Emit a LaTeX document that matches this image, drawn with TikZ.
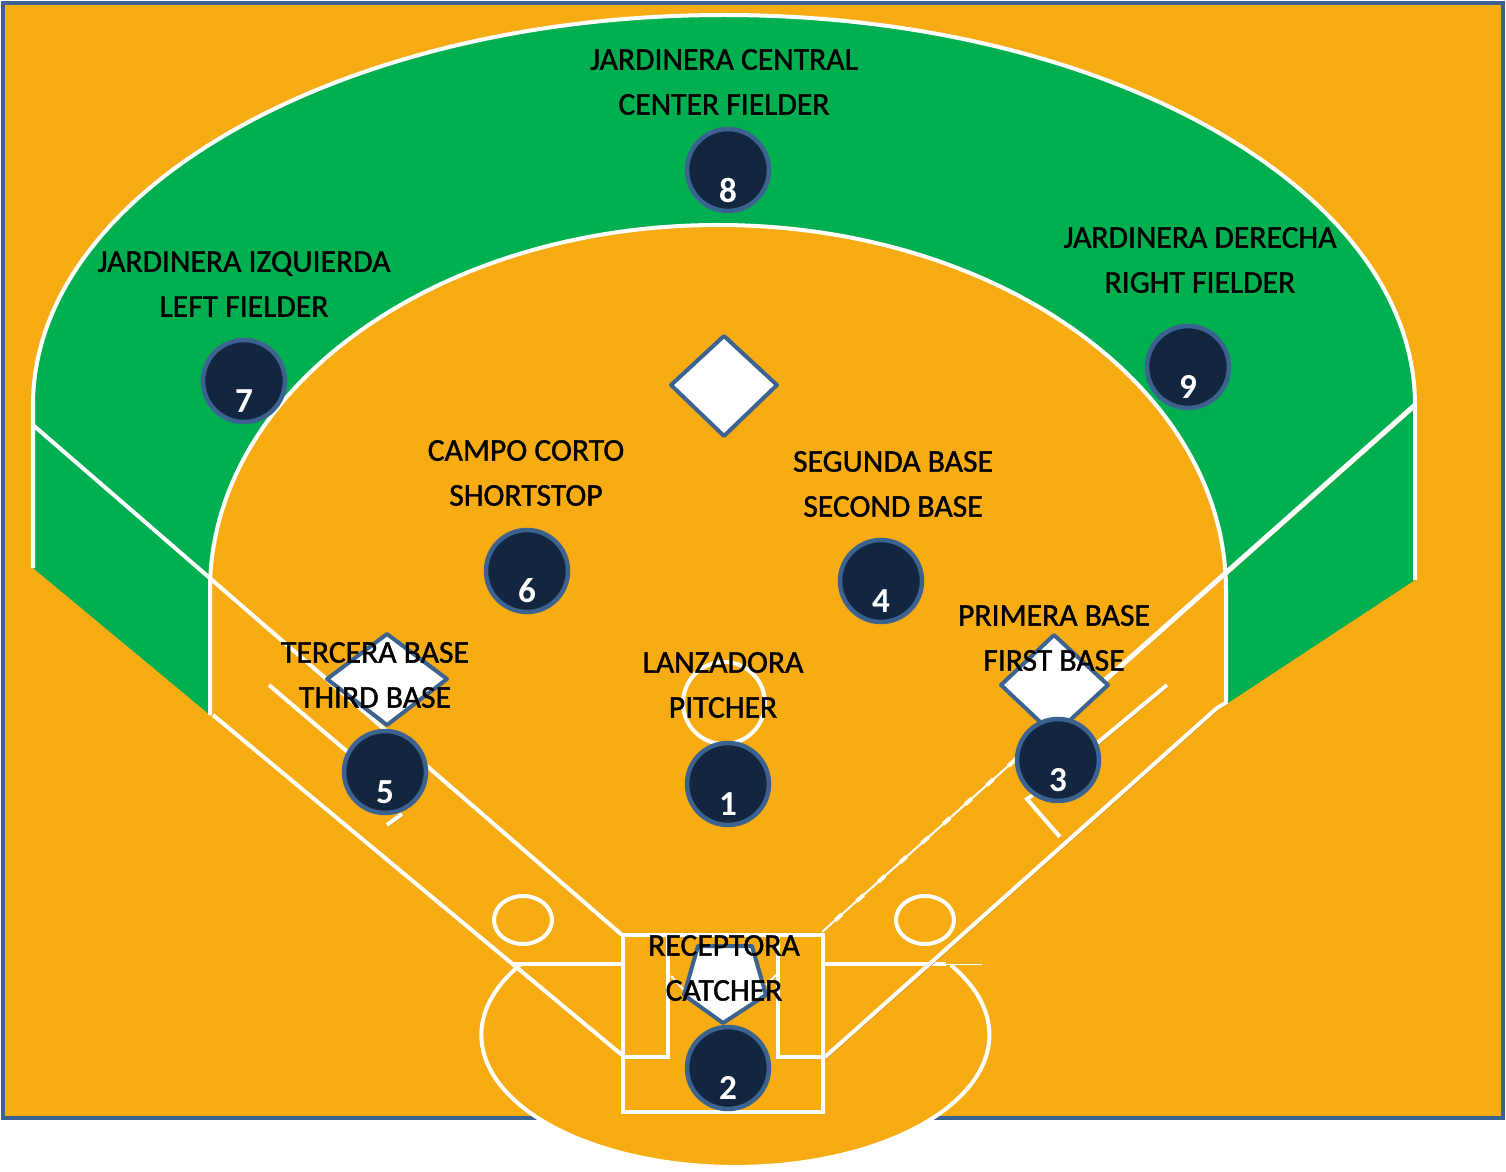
\documentclass[tikz,border=0pt]{standalone}
\usepackage{fontspec}
\setmainfont{Carlito}
\newfontfamily\posfont[FakeBold=1.2]{Carlito}
\usepackage{xcolor}
\usetikzlibrary{positioning,calc}
\definecolor{clay}{HTML}{F8AC14}
\definecolor{grass}{HTML}{00AF50}
\definecolor{navy}{HTML}{12263F}
\definecolor{rim}{HTML}{3C6390}
\begin{document}
\begin{tikzpicture}[
chalk/.style={draw=white, line width=0.04cm, line join=miter},
shade/.style={preaction={draw=clay!82!black, transform canvas={shift={(0.012,-0.015)}}}},
base/.style={draw=rim, line width=0.04cm, fill=white, line join=round},
player/.style={circle, draw=rim, line width=0.045cm, fill=navy, minimum size=0.82cm, inner sep=0pt},
num/.style={text=white, font=\fontsize{10}{12}\selectfont\bfseries, inner sep=0pt},
posname/.style={align=center, text=black, inner sep=0pt, font=\posfont\fontsize{9}{12.8}\selectfont}
]
\useasboundingbox (0,0) rectangle (15.06,11.71);

% Ground
\fill[white] (0,0) rectangle (15.06,11.71);
\draw[fill=clay, draw=rim, line width=0.04cm] (0.03,0.53) rectangle (15.03,11.68);

% Outfield
\fill[grass] (0.33,6.03) -- (0.33,7.66) arc[start angle=180, end angle=0, x radius=6.91, y radius=3.90]
  -- (14.15,5.91) -- (12.28,4.68) -- (12.26,5.81) arc[start angle=0, end angle=180, x radius=5.08, y radius=3.65]
  -- (2.10,4.56) -- cycle;
\draw[chalk] (0.33,6.03) -- (0.33,7.66) arc[start angle=180, end angle=0, x radius=6.91, y radius=3.90] -- (14.15,5.91);
\draw[chalk] (2.10,4.56) -- (2.10,5.81) arc[start angle=180, end angle=0, x radius=5.08, y radius=3.65] -- (12.26,4.69);

% Home plate area
\fill[clay] (5.20,2.06) arc[start angle=148, end angle=392, x radius=2.54, y radius=1.32] -- cycle;
\draw[chalk] (5.20,2.06) arc[start angle=148, end angle=392, x radius=2.54, y radius=1.32];
\draw[chalk] (5.12,2.07) -- (6.22,2.07);
\draw[chalk] (8.24,2.07) -- (9.46,2.07);
\draw[white, line width=0.01cm] (9.46,2.07) -- (9.82,2.07);

% Foul lines
\draw[chalk, shade] (0.33,7.46) -- (6.22,2.36);
\draw[chalk, shade, line width=0.05cm] (14.15,7.66) -- (10.15,4.11);
\draw[white, line width=0.02cm] (10.15,4.11) -- (8.22,2.39);
\draw[white, line width=0.04cm, dash pattern=on 0.09cm off 0.2cm] (10.15,4.11) -- (8.22,2.39);
\draw[chalk, shade] (2.13,4.56) -- (6.22,1.16);
\draw[chalk, shade] (12.27,4.69) -- (12.17,4.63) -- (8.25,1.14);

% Coach lines
\draw[chalk, shade] (2.69,4.86) -- (3.50,4.17);
\draw[chalk, shade] (3.87,3.46) -- (4.02,3.57);
\draw[chalk, shade] (11.67,4.86) -- (10.90,4.22);
\draw[chalk, shade] (10.33,3.76) -- (10.27,3.72) -- (10.60,3.34);

% Batter boxes
\draw[chalk] (6.23,2.36) rectangle (8.23,0.59);
\draw[chalk] (6.23,2.36) -- (6.68,2.36) -- (6.68,1.14) -- (6.23,1.14);
\draw[chalk] (8.23,2.36) -- (7.78,2.36) -- (7.78,1.14) -- (8.23,1.14);
\draw[white, line width=0.02cm] (6.71,1.95) -- (6.84,1.81);
\draw[white, line width=0.02cm] (7.76,1.96) -- (7.66,1.86);

% On-deck and pitcher circles
\draw[chalk] (5.23,2.51) ellipse[x radius=0.29, y radius=0.24];
\draw[chalk] (9.25,2.51) ellipse[x radius=0.29, y radius=0.24];
\draw[chalk] (7.24,4.68) circle[radius=0.41];

% Bases
\draw[base] (7.24,8.35) -- (7.77,7.86) -- (7.24,7.35) -- (6.71,7.86) -- cycle;
\draw[base] (3.87,5.37) -- (4.47,4.92) -- (3.87,4.46) -- (3.27,4.92) -- cycle;
\draw[base] (10.54,5.36) -- (11.08,4.86) -- (10.54,4.36) -- (10.01,4.86) -- cycle;
\draw[base] (6.98,2.25) -- (7.52,2.25) -- (7.66,1.76) -- (7.23,1.48) -- (6.84,1.76) -- cycle;

% Players
\node[player] (p1) at (7.28,3.87) {};
\node[player] (p2) at (7.28,1.03) {};
\node[player] (p3) at (10.58,4.11) {};
\node[player] (p4) at (8.81,5.90) {};
\node[player] (p5) at (3.85,3.99) {};
\node[player] (p6) at (5.27,6.00) {};
\node[player] (p7) at (2.44,7.90) {};
\node[player] (p8) at (7.28,10.01) {};
\node[player] (p9) at (11.88,8.04) {};

\node[num] (n1) at ([yshift=-0.2cm]p1.center) {1};
\node[num] (n2) at ([yshift=-0.2cm]p2.center) {2};
\node[num] (n3) at ([yshift=-0.2cm]p3.center) {3};
\node[num] (n4) at ([yshift=-0.2cm]p4.center) {4};
\node[num] (n5) at ([yshift=-0.2cm]p5.center) {5};
\node[num] (n6) at ([yshift=-0.2cm]p6.center) {6};
\node[num] (n7) at ([yshift=-0.2cm]p7.center) {7};
\node[num] (n8) at ([yshift=-0.2cm]p8.center) {8};
\node[num] (n9) at ([yshift=-0.2cm]p9.center) {9};

% Position names
\node[posname] (center) at (7.24,10.89) {JARDINERA CENTRAL\\CENTER FIELDER};
\node[posname] (left) at (2.44,8.87) {JARDINERA IZQUIERDA\\LEFT FIELDER};
\node[posname] (right) at (12.00,9.11) {JARDINERA DERECHA\\RIGHT FIELDER};
\node[posname] (short) at (5.26,6.98) {CAMPO CORTO\\SHORTSTOP};
\node[posname] (second) at (8.93,6.87) {SEGUNDA BASE\\SECOND BASE};
\node[posname] (first) at (10.54,5.33) {PRIMERA BASE\\FIRST BASE};
\node[posname] (third) at (3.75,4.96) {TERCERA BASE\\THIRD BASE};
\node[posname] (pitcher) at (7.23,4.86) {LANZADORA\\PITCHER};
\node[posname] (catcher) at (7.24,2.03) {RECEPTORA\\CATCHER};

\end{tikzpicture}
\end{document}
